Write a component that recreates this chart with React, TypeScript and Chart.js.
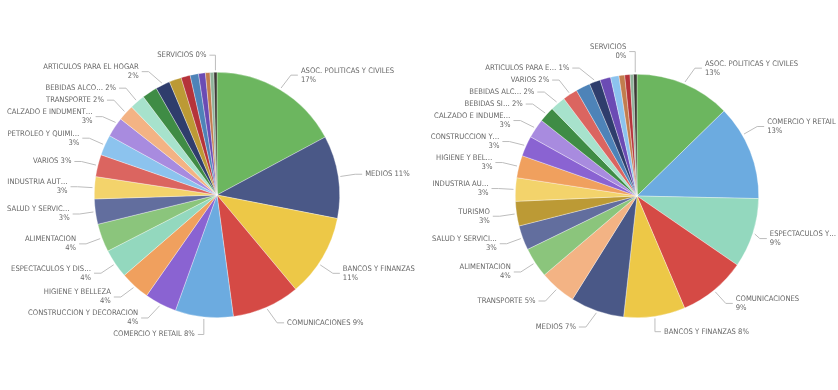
import React, { useEffect, useRef } from "react";
import { Chart, registerables } from "chart.js";

Chart.register(...registerables);

// ---------------- data ----------------
const leftCategories = [
  "ASOC. POLITICAS Y CIVILES", "MEDIOS", "BANCOS Y FINANZAS", "COMUNICACIONES", "COMERCIO Y RETAIL",
  "CONSTRUCCION Y DECORACION", "HIGIENE Y BELLEZA", "ESPECTACULOS Y DIS…", "ALIMENTACION", "SALUD Y SERVICI…",
  "INDUSTRIA AUT…", "VARIOS", "PETROLEO Y QUIMI…", "CALZADO E INDUMENT…", "TRANSPORTE", "BEBIDAS ALCO…",
  "BEBIDAS SI…", "ARTICULOS PARA EL HOGAR", "TURISMO", "OTROS 1", "OTROS 2", "OTROS 3", "OTROS 4", "OTROS 5", "SERVICIOS",
];
const leftValues = [
  17.1, 10.85, 10.8, 8.9, 7.6, 4.2, 3.9, 3.8, 3.7, 3.3, 2.9, 2.9, 2.7, 2.6, 2.1, 2.0,
  2.0, 1.9, 1.6, 1.2, 1.1, 0.9, 0.6, 0.5, 0.4,
];
const leftDisplay = [
  "ASOC. POLITICAS Y CIVILES", "MEDIOS", "BANCOS Y FINANZAS", "COMUNICACIONES", "COMERCIO Y RETAIL",
  "CONSTRUCCION Y DECORACION", "HIGIENE Y BELLEZA", "ESPECTACULOS Y DIS…", "ALIMENTACION", "SALUD Y SERVIC…",
  "INDUSTRIA AUT…", "VARIOS", "PETROLEO Y QUIMI…", "CALZADO E INDUMENT…", "TRANSPORTE", "BEBIDAS ALCO…",
  "", "ARTICULOS PARA EL HOGAR", "", "", "", "", "", "", "SERVICIOS",
];
const leftWrapped = [
  true, false, true, false, false, true, true, true, true, true, true, false, true, true, false, false,
  false, true, false, false, false, false, false, false, false,
];

const rightCategories = [
  "ASOC. POLITICAS Y CIVILES", "COMERCIO Y RETAIL", "ESPECTACULOS Y DIS…", "COMUNICACIONES", "BANCOS Y FINANZAS",
  "MEDIOS", "TRANSPORTE", "ALIMENTACION", "SALUD Y SERVICI…", "TURISMO", "INDUSTRIA AUT…", "HIGIENE Y BELLEZA",
  "CONSTRUCCION Y DECORACION", "CALZADO E INDUMENT…", "BEBIDAS SI…", "BEBIDAS ALCO…", "VARIOS", "OTROS 2",
  "ARTICULOS PARA EL HOGAR", "OTROS 3", "PETROLEO Y QUIMI…", "OTROS 4", "OTROS 1", "OTROS 5", "SERVICIOS",
];
const rightValues = [
  12.56, 12.53, 9.17, 8.92, 8.08, 7.06, 4.83, 3.97, 3.23, 3.23, 3.08, 2.94, 2.67, 2.55, 2.06, 2.0, 1.95, 1.9,
  1.45, 1.4, 1.1, 0.75, 0.7, 0.45, 0.45,
];
const rightDisplay = [
  "ASOC. POLITICAS Y CIVILES", "COMERCIO Y RETAIL", "ESPECTACULOS Y…", "COMUNICACIONES", "BANCOS Y FINANZAS",
  "MEDIOS", "TRANSPORTE", "ALIMENTACION", "SALUD Y SERVICI…", "TURISMO", "INDUSTRIA AU…", "HIGIENE Y BEL…",
  "CONSTRUCCION Y…", "CALZADO E INDUME…", "BEBIDAS SI…", "BEBIDAS ALC…", "VARIOS", "",
  "ARTICULOS PARA E…", "", "", "", "", "", "SERVICIOS",
];
const rightWrapped = [
  true, true, true, true, false, false, false, true, true, true, true, true, true, true, false, false, false, false,
  false, false, false, false, false, false, true,
];

const categoryColors: Record<string, string> = {
  "ASOC. POLITICAS Y CIVILES": "#6CB65F",
  "MEDIOS": "#4A5887",
  "BANCOS Y FINANZAS": "#EDC847",
  "COMUNICACIONES": "#D54A45",
  "COMERCIO Y RETAIL": "#6CABE0",
  "CONSTRUCCION Y DECORACION": "#8A63D2",
  "HIGIENE Y BELLEZA": "#F0A05E",
  "ESPECTACULOS Y DIS…": "#93D8BE",
  "ALIMENTACION": "#8BC57C",
  "SALUD Y SERVICI…": "#626E9E",
  "INDUSTRIA AUT…": "#F3D36B",
  "VARIOS": "#DB6560",
  "PETROLEO Y QUIMI…": "#8CC3EE",
  "CALZADO E INDUMENT…": "#A88BDF",
  "TRANSPORTE": "#F3B384",
  "BEBIDAS ALCO…": "#A7E2CC",
  "BEBIDAS SI…": "#3F8C45",
  "ARTICULOS PARA EL HOGAR": "#2F3D6C",
  "TURISMO": "#BC9A35",
  "OTROS 1": "#B5333A",
  "OTROS 2": "#4E83B8",
  "OTROS 3": "#6B4BB4",
  "OTROS 4": "#C27D4E",
  "OTROS 5": "#8FB29A",
  "SERVICIOS": "#3D3A35",
};

// ---------------- label plugin (Power BI style outside labels) ----------------
const FONT = '7.6px "DejaVu Sans Condensed", "DejaVu Sans", sans-serif';
const LINE = 9;
const PAD = 3;
const MAX_SLIDE = (16 * Math.PI) / 180;

function makeLabelPlugin(display: string[], wrapped: boolean[], minX: number, maxX: number) {
  return {
    id: "pbiLabels",
    afterDatasetsDraw(chart: any) {
      const ctx = chart.ctx;
      const meta = chart.getDatasetMeta(0);
      const values = chart.data.datasets[0].data as number[];
      const total = values.reduce((a: number, b: number) => a + b, 0);
      ctx.save();
      ctx.font = FONT;
      const items: any[] = [];
      meta.data.forEach((arc: any, i: number) => {
        const name = display[i];
        if (!name) return;
        const p = arc.getProps(["x", "y", "outerRadius", "startAngle", "endAngle"], true);
        const cx = p.x, cy = p.y, r = p.outerRadius;
        const pct = Math.round((values[i] / total) * 100) + "%";
        const lines = wrapped[i] ? [name, pct] : [name + " " + pct];
        const w = Math.max(...lines.map((t: string) => ctx.measureText(t).width));
        const h = lines.length * LINE;
        const mid = (p.startAngle + p.endAngle) / 2;
        let a = Math.atan2(Math.sin(mid), Math.cos(mid));
        const side = Math.cos(a) < 0 ? -1 : 1;
        const RY = r + 17, RXE = r + 27, RYE = r + 22;
        const edgeFor = (ly: number) => {
          const dy = (ly - cy) / RYE;
          return cx + side * RXE * Math.sqrt(Math.max(0, 1 - dy * dy));
        };
        const isVertical = (ang: number) => Math.abs(Math.cos(ang)) < 0.22;
        const fits = (ang: number) => {
          const ly = cy + RY * Math.sin(ang);
          const e = edgeFor(ly);
          return side < 0 ? e - w >= minX : e + w <= maxX;
        };
        const target = Math.sin(a) < 0 ? -Math.PI / 2 : Math.PI / 2;
        let delta = 0;
        const step = (0.5 * Math.PI) / 180;
        if (Math.abs(Math.sin(a)) > 0.35) {
          while (!isVertical(a) && !fits(a) && Math.abs(delta) < MAX_SLIDE) {
            const dir = target > a ? 1 : -1;
            a += dir * step;
            delta += dir * step;
          }
        }
        const eps = Math.min(0.02, (p.endAngle - p.startAngle) / 2);
        const la = Math.min(Math.max(mid + delta, p.startAngle + eps), p.endAngle - eps);
        const vertical = isVertical(a);
        const ly = vertical ? cy + Math.sign(Math.sin(a)) * (r + 14) : cy + RY * Math.sin(a);
        items.push({ cx, cy, r, lines, w, h, side, ly, la, vertical, edgeFor });
      });

      // collisions, per side
      [-1, 1].forEach((s) => {
        const list = items.filter((it) => it.side === s).sort((x, y) => x.ly - y.ly);
        for (let it = 0; it < 300; it++) {
          let moved = false;
          for (let j = 1; j < list.length; j++) {
            const need = (list[j - 1].h + list[j].h) / 2 + PAD;
            const gap = list[j].ly - list[j - 1].ly;
            if (gap < need - 0.01) {
              const d = (need - gap) / 2;
              list[j - 1].ly -= d;
              list[j].ly += d;
              moved = true;
            }
          }
          if (!moved) break;
        }
      });

      ctx.strokeStyle = "#BDBDBD";
      ctx.lineWidth = 1;
      ctx.fillStyle = "#666666";
      ctx.textBaseline = "middle";
      items.forEach((it) => {
        const { cx, cy, r, side, ly, la } = it;
        const p0x = cx + (r + 2) * Math.cos(la);
        const p0y = cy + (r + 2) * Math.sin(la);
        let edge: number;
        ctx.beginPath();
        if (it.vertical) {
          edge = p0x + side * 9;
          ctx.moveTo(p0x, p0y);
          ctx.lineTo(p0x, ly);
          ctx.lineTo(p0x + side * 6, ly);
        } else {
          edge = it.edgeFor(ly);
          if (side < 0) edge = Math.max(edge, minX + it.w);
          else edge = Math.min(edge, maxX - it.w);
          ctx.moveTo(p0x, p0y);
          ctx.lineTo(edge - side * 10, ly);
          ctx.lineTo(edge - side * 3, ly);
        }
        ctx.stroke();
        ctx.textAlign = side < 0 ? "right" : "left";
        const n = it.lines.length;
        it.lines.forEach((t: string, k: number) => {
          ctx.fillText(t, edge, ly + (k - (n - 1) / 2) * LINE);
        });
      });
      ctx.restore();
    },
  };
}

type PieProps = {
  categories: string[];
  values: number[];
  display: string[];
  wrapped: boolean[];
  width: number;
  height: number;
  padding: { left: number; right: number; top: number; bottom: number };
  minX: number;
  maxX: number;
};

function PieChart(props: PieProps) {
  const ref = useRef<HTMLCanvasElement | null>(null);
  useEffect(() => {
    if (!ref.current) return;
    const chart = new Chart(ref.current, {
      type: "pie",
      data: {
        labels: props.categories,
        datasets: [
          {
            data: props.values,
            backgroundColor: props.categories.map((c) => categoryColors[c]),
            borderWidth: 0.6,
            borderColor: "rgba(255,255,255,0.55)",
            hoverOffset: 0,
          },
        ],
      },
      options: {
        responsive: false,
        maintainAspectRatio: false,
        animation: false,
        devicePixelRatio: 1,
        events: [],
        layout: { padding: props.padding },
        plugins: { legend: { display: false }, tooltip: { enabled: false } },
      },
      plugins: [makeLabelPlugin(props.display, props.wrapped, props.minX, props.maxX)],
    } as any);
    return () => chart.destroy();
  }, []);
  return (
    <canvas
      ref={ref}
      width={props.width}
      height={props.height}
      style={{ display: "block", width: props.width, height: props.height }}
    />
  );
}

export default function App() {
  return (
    <div
      style={{
        position: "absolute",
        left: 0,
        top: 0,
        width: 838,
        height: 390,
        background: "#ffffff",
        display: "flex",
        overflow: "hidden",
      }}
    >
      <PieChart
        categories={leftCategories}
        values={leftValues}
        display={leftDisplay}
        wrapped={leftWrapped}
        width={420}
        height={390}
        padding={{ left: 94, right: 80, top: 72, bottom: 72 }}
        minX={7}
        maxX={415}
      />
      <PieChart
        categories={rightCategories}
        values={rightValues}
        display={rightDisplay}
        wrapped={rightWrapped}
        width={418}
        height={390}
        padding={{ left: 95, right: 79, top: 74, bottom: 72 }}
        minX={10}
        maxX={416}
      />
    </div>
  );
}
